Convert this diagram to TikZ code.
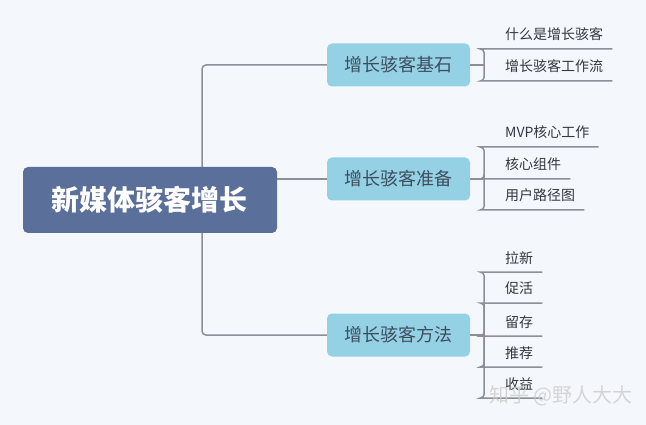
\documentclass[tikz,border=0pt]{standalone}
\usepackage{fontspec}
\newfontfamily\cjk{Noto Sans CJK SC}
\newfontfamily\cjkheavy{Noto Sans CJK SC Black}
\usepackage{xcolor}
\usetikzlibrary{positioning, calc, backgrounds}

\definecolor{bgcol}{HTML}{F4F8FC}
\definecolor{rootcol}{HTML}{5A6F99}
\definecolor{branchcol}{HTML}{94D1E5}
\definecolor{branchtxt}{HTML}{3E4D5E}
\definecolor{linecol}{HTML}{8B8F97}
\definecolor{leaftxt}{HTML}{333840}

\begin{document}
\begin{tikzpicture}[
    x=1pt, y=-1pt,
    root/.style={rectangle, fill=rootcol, rounded corners=5pt,
                 minimum width=254pt, minimum height=66pt,
                 font=\cjkheavy\fontsize{28}{28}\selectfont, text=white},
    branch/.style={rectangle, fill=branchcol, rounded corners=5pt,
                 minimum width=143pt, minimum height=43pt,
                 font=\cjk\fontsize{18}{18}\selectfont, text=branchtxt},
    leaf/.style={inner sep=0pt, anchor=base west,
                 font=\cjk\fontsize{14}{14}\selectfont, text=leaftxt},
    conn/.style={draw=linecol, line width=1.5pt, rounded corners=4pt},
    mark lbl/.style={font=\cjk\fontsize{20}{20}\selectfont, text=gray!40,
                 opacity=0.8},
  ]
    \useasboundingbox (0,0) rectangle (646,425);

    % ── Root and main topics ─────────────────────
    \node[root] (root) at (150,200) {新媒体骇客增长};
    \coordinate (trunk) at (202,200);
    \node[branch] (base) at (398.5,65) {增长骇客基石};
    \node[branch] (prep) at (398.5,179) {增长骇客准备};
    \node[branch] (meth) at (398.5,335) {增长骇客方法};

    % ── Sub topics ───────────────────────────────
    \node[leaf] (what) at (505,40) {什么是增长骇客};
    \node[leaf] (flow) at (505,72) {增长骇客工作流};

    \node[leaf] (mvp)  at (505,138) {MVP核心工作};
    \node[leaf] (core) at (505,170) {核心组件};
    \node[leaf] (path) at (505,201) {用户路径图};

    \node[leaf] (acq)  at (505,263) {拉新};
    \node[leaf] (act)  at (505,294) {促活};
    \node[leaf] (ret)  at (505,327) {留存};
    \node[leaf] (ref)  at (505,358) {推荐};
    \node[leaf] (rev)  at (505,389) {收益};

    \coordinate[xshift=14pt] (kbase) at (base.east);
    \coordinate[xshift=14pt] (kprep) at (prep.east);
    \coordinate[xshift=14pt] (kmeth) at (meth.east);

    % ── Connectors ───────────────────────────────
    \begin{pgfonlayer}{background}
      \fill[bgcol] (0,0) rectangle (646,425);
      \draw[conn] (base.west) -| (trunk) |- (meth.west);
      \draw[conn] (root.east |- prep.west) -- (prep.west);
      \draw[conn] (base.east) -- (kbase);
      \draw[conn] (prep.east) -- (kprep);
      \draw[conn] (meth.east) -- (kmeth);
      \foreach \n in {what, flow}
        \draw[conn] (kbase) |- ([xshift=-21pt,yshift=-9pt]\n.base west)
                    -- ([xshift=9pt,yshift=-9pt]\n.base east);
      \foreach \n in {mvp, core, path}
        \draw[conn] (kprep) |- ([xshift=-21pt,yshift=-9pt]\n.base west)
                    -- ([xshift=9pt,yshift=-9pt]\n.base east);
      \foreach \n in {acq, act, ret, ref, rev}
        \draw[conn] (kmeth) |- ([xshift=-21pt,yshift=-9pt]\n.base west)
                    -- ([xshift=9pt,yshift=-9pt]\n.base east);
    \end{pgfonlayer}

    % ── Watermark ────────────────────────────────
    \node[mark lbl, anchor=west] (wm) at (486,396) {知乎 @野人大大};
  \end{tikzpicture}
\end{document}
